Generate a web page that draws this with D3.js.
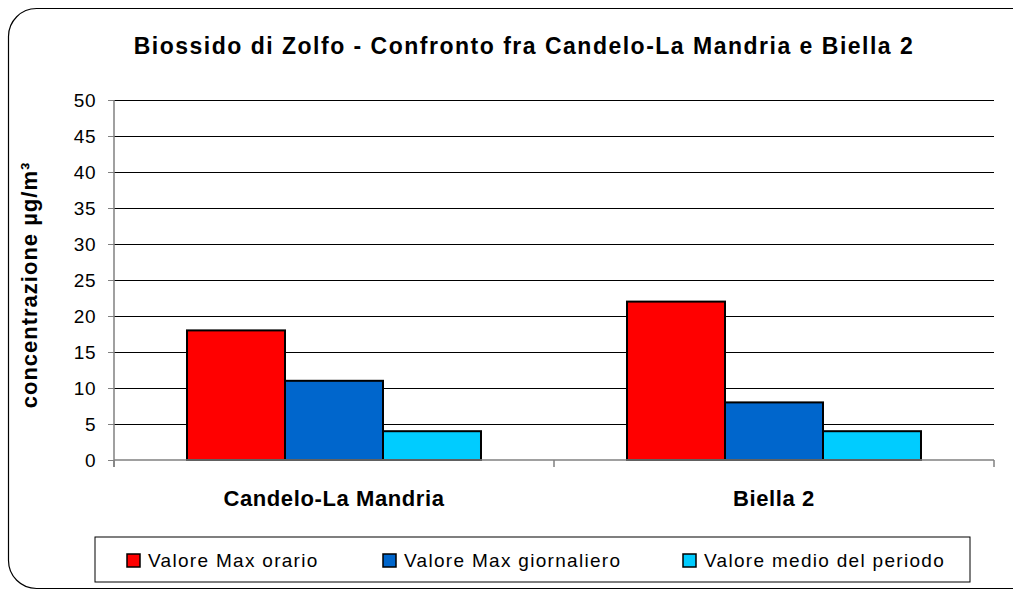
<!DOCTYPE html>
<html>
<head>
<meta charset="utf-8">
<script src="https://cdn.jsdelivr.net/npm/d3@7"></script>
<style>
  body { margin: 0; background: #fff; }
  text { font-family: "Liberation Sans", Arial, sans-serif; }
</style>
</head>
<body>
<div class="chart"></div>
<script>
// data
var categories = ['Candelo-La Mandria', 'Biella 2'];
var seriesNames = ['Valore Max orario', 'Valore Max giornaliero', 'Valore medio del periodo'];
var seriesColors = ['#ff0000', '#0066cc', '#00ccff'];
var maxOrario = [18, 22];
var maxGiornaliero = [11, 8];
var medioPeriodo = [4, 4];
var yTicks = [0, 5, 10, 15, 20, 25, 30, 35, 40, 45, 50];

var W = 1013, H = 590;
var margin = { top: 100, right: 19, bottom: 130, left: 114 };
var width = W - margin.left - margin.right;
var height = H - margin.top - margin.bottom;

var svg = d3.select('.chart')
  .append('svg')
    .attr('width', W)
    .attr('height', H);

// outer rounded frame
svg.append('rect')
  .attr('x', 8.5).attr('y', 8.5)
  .attr('width', W + 20).attr('height', H - 10)
  .attr('rx', 28).attr('ry', 28)
  .style('fill', 'none')
  .style('stroke', '#000')
  .style('stroke-width', 1.2);

svg.append('text')
  .attr('x', 524).attr('y', 54)
  .attr('text-anchor', 'middle')
  .style('font-size', '23px')
  .style('font-weight', 'bold')
  .style('letter-spacing', '1.5px')
  .text('Biossido di Zolfo - Confronto fra Candelo-La Mandria e Biella 2');

var g = svg.append('g')
  .attr('transform', `translate(${margin.left}, ${margin.top})`);

var xScale = d3.scaleBand()
  .domain(categories)
  .range([0, width]);

var xInner = d3.scaleBand()
  .domain(seriesNames)
  .range([0, xScale.bandwidth()])
  .paddingOuter(0.745);

var yScale = d3.scaleLinear()
  .domain([0, 50])
  .range([height, 0]);

// gridlines (crisp, black)
g.selectAll('.grid')
  .data(yTicks.slice(1))
  .enter()
  .append('line')
    .attr('x1', 0).attr('x2', width)
    .attr('y1', d => yScale(d) + 0.5).attr('y2', d => yScale(d) + 0.5)
    .style('stroke', '#000')
    .style('stroke-width', 1);

var table = categories.map((c, i) => ({
  cat: c,
  values: [maxOrario[i], maxGiornaliero[i], medioPeriodo[i]]
}));

var groups = g.selectAll('.grp')
  .data(table)
  .enter()
  .append('g')
    .attr('transform', d => `translate(${xScale(d.cat)}, 0)`);

groups.selectAll('rect')
  .data(d => d.values.map((v, i) => ({ name: seriesNames[i], v: v, i: i })))
  .enter()
  .append('rect')
    .attr('x', d => xInner(d.name))
    .attr('y', d => yScale(d.v))
    .attr('width', xInner.bandwidth())
    .attr('height', d => height - yScale(d.v))
    .style('fill', d => seriesColors[d.i])
    .style('stroke', '#000')
    .style('stroke-width', 2);

// y axis
var yAxis = g.append('g')
  .call(d3.axisLeft(yScale).tickValues(yTicks).tickSize(6).tickPadding(12));
yAxis.select('.domain').attr('d', `M0,0V${height + 7}`).style('stroke', '#808080').style('stroke-width', 1.5);
yAxis.selectAll('.tick line').style('stroke', '#808080');
yAxis.selectAll('.tick text')
  .style('font-size', '19px')
  .style('font-family', '"Liberation Sans", Arial, sans-serif')
  .style('letter-spacing', '0.5px')
  .attr('fill', '#000');

// x axis (category separators)
var xAxis = g.append('g')
  .attr('transform', `translate(0, ${height})`);
xAxis.append('line')
  .attr('x1', 0).attr('x2', width)
  .style('stroke', '#808080').style('stroke-width', 1.5);
xAxis.selectAll('.sep')
  .data(d3.range(categories.length + 1))
  .enter()
  .append('line')
    .attr('x1', d => d * xScale.step()).attr('x2', d => d * xScale.step())
    .attr('y1', 0).attr('y2', 7)
    .style('stroke', '#808080').style('stroke-width', 1.5);
xAxis.selectAll('.lbl')
  .data(categories)
  .enter()
  .append('text')
    .attr('x', d => xScale(d) + xScale.bandwidth() / 2)
    .attr('y', 46)
    .attr('text-anchor', 'middle')
    .style('font-size', '22px')
    .style('font-weight', 'bold')
    .style('letter-spacing', '0.6px')
    .text(d => d);

// y axis title
svg.append('text')
  .attr('transform', 'translate(37, 285) rotate(-90)')
  .attr('text-anchor', 'middle')
  .style('font-size', '22px')
  .style('font-weight', 'bold')
  .style('letter-spacing', '1px')
  .text('concentrazione µg/m³');

// legend
var legend = svg.append('g').attr('transform', 'translate(95, 537)');
legend.append('rect')
  .attr('width', 875).attr('height', 45)
  .style('fill', '#fff').style('stroke', '#000').style('stroke-width', 1);
var legendX = [32, 288, 588];
var items = legend.selectAll('.item')
  .data(seriesNames)
  .enter()
  .append('g')
    .attr('transform', (d, i) => `translate(${legendX[i]}, 0)`);
items.append('rect')
  .attr('x', 0).attr('y', 17)
  .attr('width', 13).attr('height', 13)
  .style('fill', (d, i) => seriesColors[i])
  .style('stroke', '#000').style('stroke-width', 1.5);
items.append('text')
  .attr('x', 21).attr('y', 30)
  .style('font-size', '19px')
  .style('letter-spacing', '1.3px')
  .text(d => d);
</script>
</body>
</html>
